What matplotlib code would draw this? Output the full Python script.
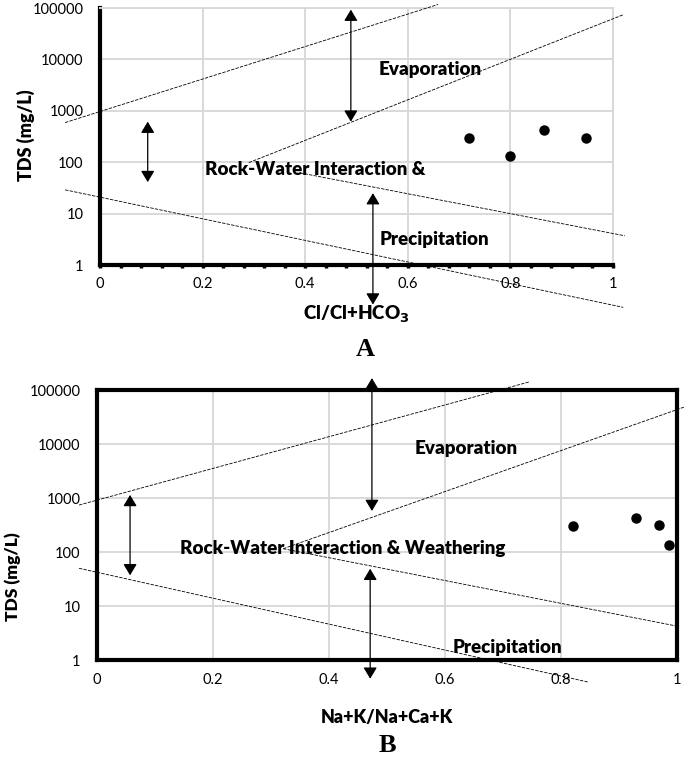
import numpy as np
import matplotlib
matplotlib.use("Agg")
import matplotlib.pyplot as plt

plt.rcParams['font.family'] = ['Lato', 'DejaVu Sans']

# sample points
cl_ratio = [0.72, 0.80, 0.866, 0.947]
tds_a = [300, 133, 427, 300]
na_ratio = [0.821, 0.929, 0.969, 0.986]
tds_b = [302, 426, 316, 135]

# Gibbs boundary lines: (x0, y0, x1, y1)
lines_a = [(-0.068, 590, 0.659, 117000),
           (0.29, 98, 1.02, 74000),
           (0.39, 62, 1.023, 3.7),
           (-0.068, 29, 1.02, 0.15)]
lines_b = [(-0.031, 740, 0.745, 141000),
           (0.321, 115, 1.014, 49000),
           (0.321, 115, 0.997, 4.3),
           (-0.031, 50, 0.847, 0.39)]

# double arrows: (x, y_top, y_bottom)
arrows_a = [(0.093, 615, 41), (0.489, 93000, 615), (0.532, 25, 0.17)]
arrows_b = [(0.057, 1140, 37), (0.474, 166000, 575), (0.471, 49, 0.45)]

# region labels: (text, x, y, ha)
labels_a = [("Evaporation", 0.643, 6300, 'center'),
            ("Rock-Water Interaction &", 0.205, 71, 'left'),
            ("Precipitation", 0.546, 3.1, 'left')]
labels_b = [("Evaporation", 0.636, 8100, 'center'),
            ("Rock-Water Interaction & Weathering", 0.143, 114, 'left'),
            ("Precipitation", 0.614, 1.7, 'left')]

x_ticks = [0, 0.2, 0.4, 0.6, 0.8, 1]
x_ticklabels = ['0', '0.2', '0.4', '0.6', '0.8', '1']
y_ticks = [1, 10, 100, 1000, 10000, 100000]
y_ticklabels = ['1', '10', '100', '1000', '10000', '100000']

GRID = '#d9d9d9'


def draw_panel(ax, xs, ys, lines, arrows, labels):
    ax.set_yscale('log')
    ax.set_xlim(0, 1)
    ax.set_ylim(1, 100000)
    ax.set_xticks(x_ticks)
    ax.set_xticklabels(x_ticklabels)
    ax.set_yticks(y_ticks)
    ax.set_yticklabels(y_ticklabels)
    ax.yaxis.set_minor_locator(matplotlib.ticker.NullLocator())
    ax.grid(True, color=GRID, lw=1.4)
    ax.set_axisbelow(True)
    ax.tick_params(labelsize=10.5, colors='black')

    for x0, y0, x1, y1 in lines:
        ax.plot([x0, x1], [y0, y1], color='black', lw=0.6,
                linestyle=(0, (4, 1.5)), clip_on=False, zorder=3)

    for x, yt, yb in arrows:
        ax.annotate('', xy=(x, yt), xytext=(x, yb),
                    arrowprops=dict(arrowstyle='<|-|>,head_length=0.4,head_width=0.24',
                                    color='black', lw=0.9,
                                    mutation_scale=17, shrinkA=0, shrinkB=0),
                    annotation_clip=False, zorder=4)

    for txt, x, y, ha in labels:
        ax.text(x, y, txt, ha=ha, va='center', fontsize=13.5, fontweight='heavy',
                zorder=5)

    ax.plot(xs, ys, 'o', color='black', markersize=6.5, zorder=6, clip_on=False)


fig = plt.figure(figsize=(6.85, 7.59), dpi=100)

# panel A
ax1 = fig.add_axes([100 / 685, 1 - 265 / 759, 513 / 685, 257 / 759])
draw_panel(ax1, cl_ratio, tds_a, lines_a, arrows_a, labels_a)
for s in ['top', 'right']:
    ax1.spines[s].set_color(GRID)
    ax1.spines[s].set_linewidth(1.4)
for s in ['left', 'bottom']:
    ax1.spines[s].set_linewidth(3)
    ax1.spines[s].set_capstyle('projecting')
ax1.xaxis.set_minor_locator(matplotlib.ticker.MultipleLocator(0.04))
ax1.tick_params(axis='x', which='both', direction='out', length=2.5, width=2.5,
                pad=6)
ax1.tick_params(axis='y', length=0, pad=12)
ax1.set_xlabel(r'Cl/Cl+HCO$_\mathbf{3}$', fontsize=13.5, fontweight='heavy')
ax1.xaxis.set_label_coords(0.5, -0.152)
ax1.set_ylabel('TDS (mg/L)', fontsize=13, fontweight='heavy', va='center')
ax1.yaxis.set_label_coords(-0.144, 0.506)

# panel B
ax2 = fig.add_axes([97 / 685, 1 - 660 / 759, 580 / 685, 270 / 759])
draw_panel(ax2, na_ratio, tds_b, lines_b, arrows_b, labels_b)
for s in ax2.spines.values():
    s.set_linewidth(3)
    s.set_zorder(5)
ax2.tick_params(length=0)
ax2.tick_params(axis='x', pad=9)
ax2.tick_params(axis='y', pad=12)
ax2.set_xlabel('Na+K/Na+Ca+K', fontsize=13, fontweight='heavy')
ax2.xaxis.set_label_coords(0.5, -0.181)
ax2.set_ylabel('TDS (mg/L)', fontsize=12.5, fontweight='heavy', va='center')
ax2.yaxis.set_label_coords(-0.145, 0.307)

fig.text(365 / 685, 1 - 350 / 759, 'A', ha='center', va='center',
         fontsize=19, fontweight='bold', family='Liberation Serif')
fig.text(387 / 685, 1 - 745 / 759, 'B', ha='center', va='center',
         fontsize=19, fontweight='bold', family='Liberation Serif')

fig.savefig('out.png', dpi=100)
